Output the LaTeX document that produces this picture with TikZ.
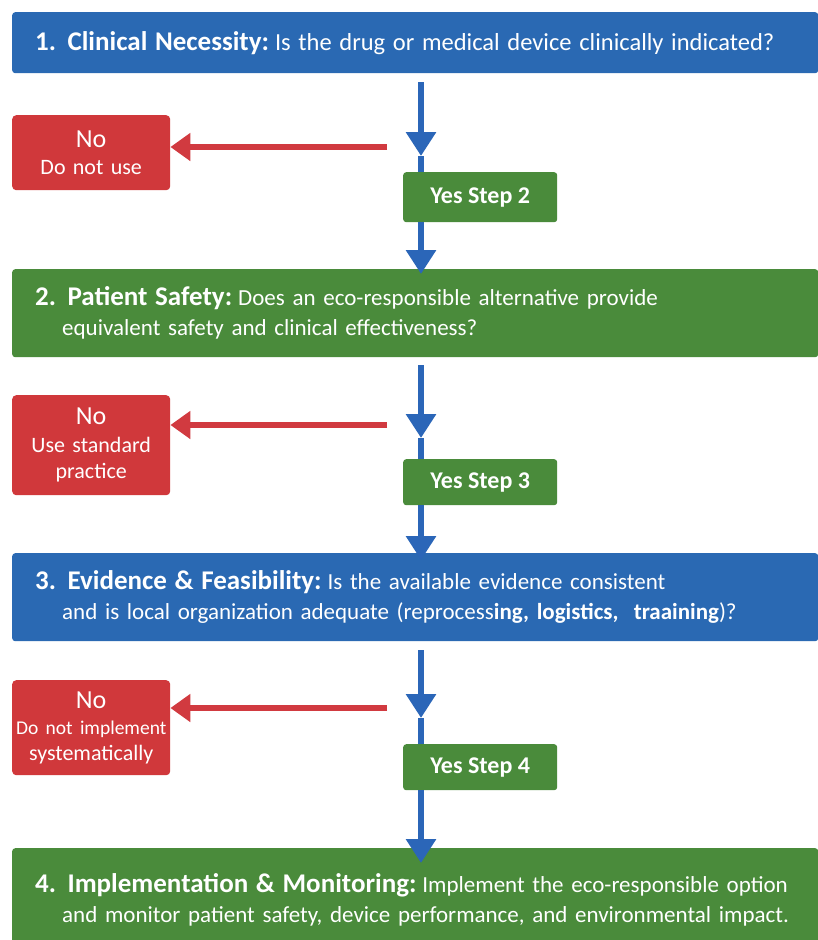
\documentclass[tikz,border=0pt]{standalone}
\usepackage{fontspec}
\setmainfont{Carlito}
\usetikzlibrary{arrows.meta}
\definecolor{blueC}{HTML}{2A69B3}
\definecolor{greenC}{HTML}{4A8B3B}
\definecolor{redC}{HTML}{D0383B}
\definecolor{arrB}{HTML}{2B66B8}
\definecolor{arrR}{HTML}{D13A40}
\tikzset{
  bigbox/.style={draw=none, rounded corners=3pt, anchor=north west, minimum width=806pt, inner xsep=0pt, inner ysep=0pt, text width=806pt, align=left, text=white, font=\fontsize{23}{30}\selectfont},
  nobox/.style={fill=redC, rounded corners=4pt, anchor=north west, minimum width=158pt, text width=156pt, inner xsep=1pt, inner ysep=0pt, align=center, text=white, font=\fontsize{22}{26}\selectfont},
  yesbox/.style={fill=greenC, rounded corners=3pt, anchor=north west, minimum width=154pt, text=white, font=\bfseries\fontsize{24}{26}\selectfont},
  downarr/.style={draw=arrB, line width=6pt, -{Triangle[width=29pt,length=24pt]}},
  downline/.style={draw=arrB, line width=6pt},
  noarr/.style={draw=arrR, line width=5.5pt, -{Triangle[width=27pt,length=20pt]}}
}
\newcommand{\hdf}{\bfseries\fontsize{27}{30}\selectfont}
\newcommand{\gp}{\hspace{6pt}}
\begin{document}
\begin{tikzpicture}[x=1pt,y=-1pt]
\useasboundingbox[fill=white] (0,0) rectangle (818,940);
% boxes
\node[bigbox, fill=blueC, minimum height=61pt] (s1) at (12,12) {\hspace*{23pt}{\hdf 1. Clinical Necessity:}\gp{\fontsize{24.5}{30}\selectfont Is the drug or medical device clinically indicated?}};
\node[bigbox, fill=greenC, minimum height=88pt] (s2) at (12,269) {\hspace*{23pt}{\hdf 2. Patient Safety:}\gp Does an eco-responsible alternative provide\\\hspace*{50pt}equivalent safety and clinical effectiveness?};
\node[bigbox, fill=blueC, minimum height=88pt] (s3) at (12,553) {\hspace*{23pt}{\hdf 3. Evidence \& Feasibility:}\gp Is the available evidence consistent\\\hspace*{50pt}and is local organization adequate (reprocess{\bfseries ing, logistics, \ traaining})?};
\node[bigbox, fill=greenC, minimum height=104pt] (s4) at (12,848) {\hspace*{23pt}{\hdf 4. Implementation \& Monitoring:}\gp Implement the eco-responsible option\\\hspace*{50pt}and monitor patient safety, device performance, and environmental impact.};
% no boxes
\node[nobox, minimum height=75pt] (n1) at (12,115) {{\fontsize{26}{30}\selectfont No}\\[1pt]Do not use};
\node[nobox, minimum height=100pt] (n2) at (12,395) {{\fontsize{26}{30}\selectfont No}\\[2pt]Use standard\\practice};
\node[nobox, minimum height=95pt] (n3) at (12,680) {{\fontsize{26}{28}\selectfont No}\\{\fontsize{19.5}{22}\selectfont Do not implement}\\systematically};
% yes boxes
\node[yesbox, minimum height=50pt] (y1) at (403,172) {Yes Step 2};
\node[yesbox, minimum height=46pt] (y2) at (403,459) {Yes Step 3};
\node[yesbox, minimum height=46pt] (y3) at (403,744) {Yes Step 4};
% coordinates
\coordinate (a1s) at (421,82);
\coordinate (a1t) at (421,156);
\coordinate (r1s) at (387,147);
\coordinate (a2s) at (421,365);
\coordinate (a2t) at (421,438);
\coordinate (r2s) at (387,425);
\coordinate (a3s) at (421,650);
\coordinate (a3t) at (421,718);
\coordinate (r3s) at (387,708);
% arrows
\draw[downarr] (a1s) -- (a1t);
\draw[downline] (a1t) -- (y1.north -| a1t);
\draw[downarr] (y1.south -| a1t) -- ([yshift=-5pt]s2.north -| a1t);
\draw[noarr] (r1s) -- (n1.east |- r1s);
\draw[downarr] (a2s) -- (a2t);
\draw[downline] (a2t) -- (y2.north -| a2t);
\draw[downarr] (y2.south -| a2t) -- ([yshift=-7pt]s3.north -| a2t);
\draw[noarr] (r2s) -- (n2.east |- r2s);
\draw[downarr] (a3s) -- (a3t);
\draw[downline] (a3t) -- (y3.north -| a3t);
\draw[downarr] (y3.south -| a3t) -- ([yshift=-15pt]s4.north -| a3t);
\draw[noarr] (r3s) -- (n3.east |- r3s);
\end{tikzpicture}
\end{document}
